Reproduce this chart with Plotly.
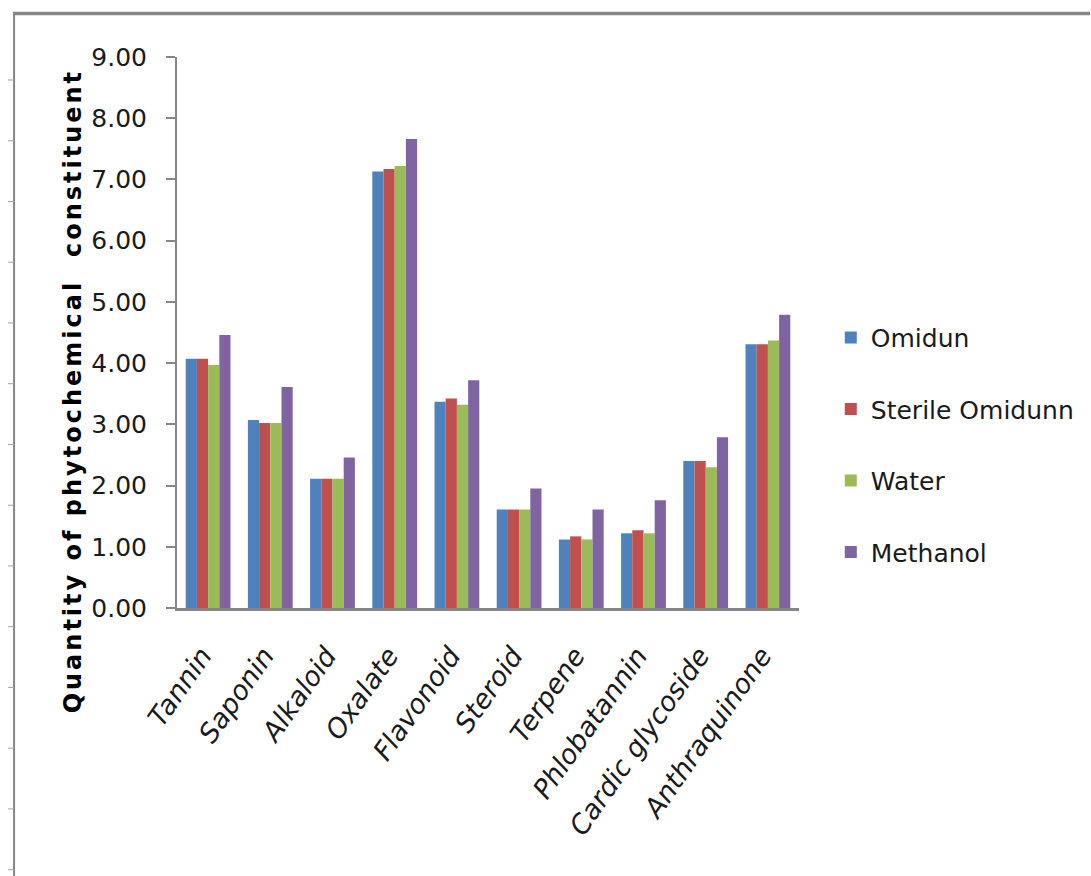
import plotly.graph_objects as go

# Phytochemical constituents and the four extracts
categories = ["Tannin", "Saponin", "Alkaloid", "Oxalate", "Flavonoid", "Steroid",
              "Terpene", "Phlobatannin", "Cardic glycoside", "Anthraquinone"]

omidun = [4.07, 3.07, 2.11, 7.13, 3.37, 1.61, 1.12, 1.22, 2.40, 4.31]
sterile_omidunn = [4.07, 3.02, 2.11, 7.17, 3.42, 1.61, 1.17, 1.27, 2.40, 4.31]
water = [3.97, 3.02, 2.11, 7.22, 3.32, 1.61, 1.12, 1.22, 2.30, 4.37]
methanol = [4.46, 3.61, 2.46, 7.66, 3.72, 1.95, 1.61, 1.76, 2.79, 4.79]

series_names = ["Omidun", "Sterile Omidunn", "Water", "Methanol"]
series_values = [omidun, sterile_omidunn, water, methanol]
series_colors = ["#4F81BD", "#C0504D", "#9BBB59", "#8064A2"]

y_ticks = [0, 1, 2, 3, 4, 5, 6, 7, 8, 9]
y_title = "Quantity of phytochemical  constituent"

W, H = 1091, 876
L, R, T, B = 177, 288, 57, 267.5
PW, PH = W - L - R, H - T - B

FONT = "DejaVu Sans"
AXIS_GREY = "#868686"
TEXT = "#1a1a1a"

fig = go.Figure()
for name, vals, col in zip(series_names, series_values, series_colors):
    fig.add_trace(go.Bar(
        x=categories, y=vals, name=name, legendgroup=name,
        marker=dict(color=col, line=dict(width=0)),
    ))


def px_x(px):
    return (px - L) / PW


def px_y(py):
    return 1 - (py - T) / PH


shapes = []
# outer frame: left and top edges
shapes.append(dict(type="line", xref="paper", yref="paper",
                   x0=px_x(13), x1=px_x(13), y0=px_y(13), y1=px_y(H + 5),
                   line=dict(color=AXIS_GREY, width=2)))
shapes.append(dict(type="line", xref="paper", yref="paper",
                   x0=px_x(12), x1=px_x(W + 5), y0=px_y(13.5), y1=px_y(13.5),
                   line=dict(color=AXIS_GREY, width=3.5)))
# small marks along the left edge of the frame
for k in range(14):
    yy = 80 + k * 60.8
    shapes.append(dict(type="line", xref="paper", yref="paper",
                       x0=px_x(7), x1=px_x(13), y0=px_y(yy), y1=px_y(yy),
                       line=dict(color="#a0a0a0", width=1)))

fig.update_layout(
    width=W, height=H,
    margin=dict(l=L, r=R, t=T, b=B),
    paper_bgcolor="white", plot_bgcolor="white",
    barmode="group", bargap=0.28, bargroupgap=0,
    font=dict(family=FONT, size=25, color=TEXT),
    shapes=shapes,
    legend=dict(
        x=px_x(835), xanchor="left", y=px_y(315), yanchor="top",
        font=dict(family=FONT, size=25, color=TEXT),
        tracegroupgap=36, bgcolor="rgba(0,0,0,0)",
    ),
    annotations=[dict(
        text=f'<b><span style="letter-spacing:3px">{y_title}</span></b>',
        textangle=-90, xref="paper", yref="paper",
        x=px_x(72), y=px_y(392), xanchor="center", yanchor="middle",
        showarrow=False, font=dict(family=FONT, size=24, color="black"),
    )],
    xaxis=dict(
        showline=True, linecolor=AXIS_GREY, linewidth=3,
        ticks="", showgrid=False, tickangle=-55,
        tickfont=dict(family=FONT, size=27, style="italic", color=TEXT),
        ticklabelstandoff=18, ticklabelshift=-6,
    ),
    yaxis=dict(
        range=[0, 9], tickvals=y_ticks, tickformat=".2f",
        showline=True, linecolor=AXIS_GREY, linewidth=2,
        ticks="outside", ticklen=9, tickcolor=AXIS_GREY, tickwidth=2,
        showgrid=False, zeroline=False,
        tickfont=dict(family=FONT, size=25, color=TEXT),
        ticklabelstandoff=14,
    ),
)

fig.write_html("out.html")
